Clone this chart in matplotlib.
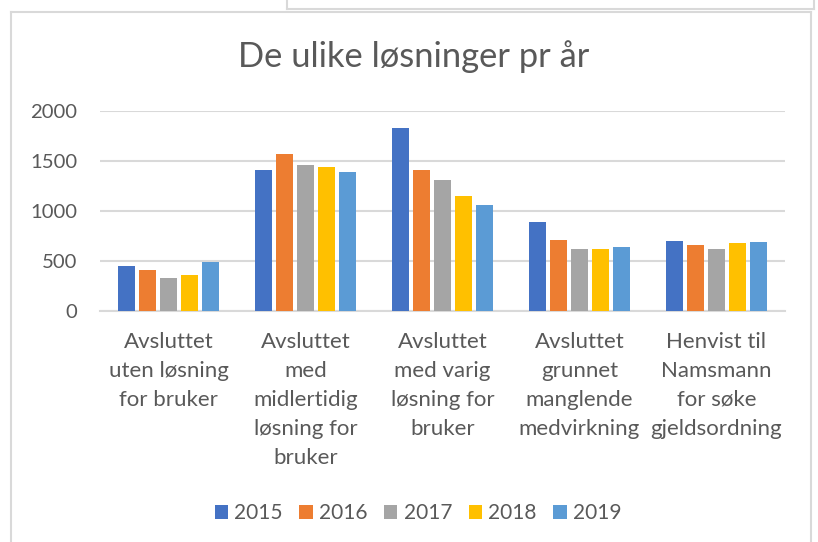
import matplotlib.pyplot as plt
import numpy as np
from matplotlib.lines import Line2D

categories = [
    "Avsluttet\nuten løsning\nfor bruker",
    "Avsluttet\nmed\nmidlertidig\nløsning for\nbruker",
    "Avsluttet\nmed varig\nløsning for\nbruker",
    "Avsluttet\ngrunnet\nmanglende\nmedvirkning",
    "Henvist til\nNamsmann\nfor søke\ngjeldsordning",
]
years = ["2015", "2016", "2017", "2018", "2019"]
v2015 = [450, 1403, 1823, 890, 703]
v2016 = [407, 1570, 1403, 707, 657]
v2017 = [330, 1460, 1307, 617, 623]
v2018 = [360, 1440, 1147, 617, 677]
v2019 = [490, 1390, 1057, 637, 693]
colors = ["#4472C4", "#ED7D31", "#A5A5A5", "#FFC000", "#5B9BD5"]

series = [v2015, v2016, v2017, v2018, v2019]
W, H = 818, 542
txt = "#595959"
font = "Lato"

fig = plt.figure(figsize=(W / 100, H / 100), dpi=100)
ax = fig.add_axes([100 / W, 1 - 311 / H, 685 / W, 200.3 / H])

x = np.arange(len(categories))
pitch = 0.153
for i, (vals, col) in enumerate(zip(series, colors)):
    ax.bar(x + (i - 2) * pitch, vals, width=0.121, color=col, label=years[i], zorder=3)

ax.set_xlim(-0.5, len(categories) - 0.5)
ax.set_ylim(0, 2000)
ax.set_yticks([0, 500, 1000, 1500, 2000])
ax.yaxis.grid(True, color="#d9d9d9", linewidth=1.5, zorder=0)
ax.set_axisbelow(True)
for s in ["top", "right", "left"]:
    ax.spines[s].set_visible(False)
ax.spines["bottom"].set_color("#d9d9d9")
ax.spines["bottom"].set_linewidth(1.5)
ax.tick_params(length=0)
ax.tick_params(axis="y", pad=16.5, labelsize=14.6, labelcolor=txt)
ax.set_xticks(x)
ax.set_xticklabels(categories, fontsize=16, color=txt, linespacing=1.56, va="top")
ax.tick_params(axis="x", pad=15)
for lab in ax.get_xticklabels() + ax.get_yticklabels():
    lab.set_fontfamily(font)

fig.text(414 / W, 1 - 57 / H, "De ulike løsninger pr år", ha="center", va="center",
         fontsize=24.8, color=txt, fontfamily=font)

leg = fig.legend(loc="center", bbox_to_anchor=(418 / W, 1 - 513 / H), ncol=5,
                 frameon=False, prop={"family": font, "size": 15},
                 handlelength=0.64, handleheight=0.64, handletextpad=0.3,
                 columnspacing=0.8)
for t in leg.get_texts():
    t.set_color(txt)

# chart frame and the box above it
fc = "#d9d9d9"
fig.add_artist(Line2D([11 / W, 11 / W], [0, 1 - 12 / H], color=fc, lw=1.5, transform=fig.transFigure))
fig.add_artist(Line2D([11 / W, 811 / W], [1 - 12 / H, 1 - 12 / H], color=fc, lw=1.5, transform=fig.transFigure))
fig.add_artist(Line2D([811 / W, 811 / W], [0, 1 - 12 / H], color=fc, lw=1.5, transform=fig.transFigure))
fig.add_artist(Line2D([287 / W, 287 / W], [1, 1 - 9 / H], color=fc, lw=1.5, transform=fig.transFigure))
fig.add_artist(Line2D([287 / W, 814 / W], [1 - 9 / H, 1 - 9 / H], color=fc, lw=1.5, transform=fig.transFigure))
fig.add_artist(Line2D([814 / W, 814 / W], [1, 1 - 9 / H], color=fc, lw=1.5, transform=fig.transFigure))

fig.savefig("out.png", dpi=100)
